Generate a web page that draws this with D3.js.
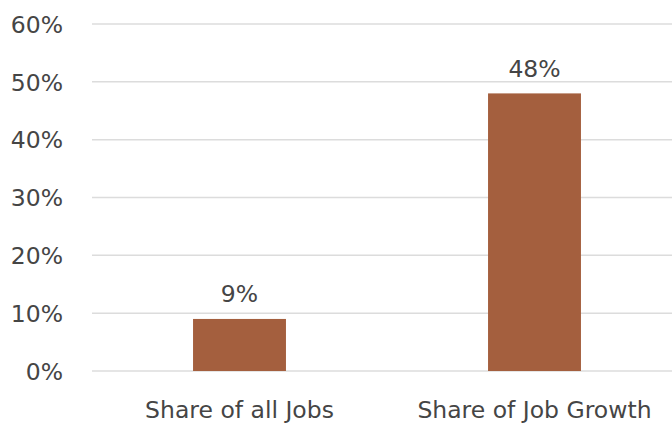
<!DOCTYPE html>
<head>
  <meta charset="utf-8">
  <script src="https://d3js.org/d3.v7.min.js"></script>
  <style>
    body { margin: 0; background: #fff; }
    text { font-family: "DejaVu Sans", sans-serif; fill: #454545; }
    .grid line { stroke: #dcdcdc; stroke-width: 1.5; }
  </style>
</head>
<body>
  <script>
    const categories = ["Share of all Jobs", "Share of Job Growth"];
    const values = [9, 48];
    const tickValues = [0, 10, 20, 30, 40, 50, 60];

    const width = 672, height = 423;
    const barColor = "#a45f3e";
    const fontSize = "23.5px";

    const svg = d3.select("body").append("svg")
        .attr("width", width)
        .attr("height", height);

    const x = d3.scaleBand()
        .domain(categories)
        .range([92, 682])
        .paddingInner(0.685)
        .paddingOuter(0.3425);
    const y = d3.scaleLinear().domain([0, 60]).range([371, 24]);

    // gridlines
    svg.append("g")
        .attr("class", "grid")
        .selectAll("line")
        .data(tickValues)
        .enter().append("line")
        .attr("x1", 92)
        .attr("x2", 682)
        .attr("y1", d => y(d))
        .attr("y2", d => y(d));

    // y tick labels
    svg.append("g")
        .selectAll("text")
        .data(tickValues)
        .enter().append("text")
        .attr("x", 63)
        .attr("y", d => y(d))
        .attr("dy", "0.37em")
        .attr("text-anchor", "end")
        .style("font-size", fontSize)
        .text(d => d + "%");

    const data = categories.map((c, i) => ({name: c, value: values[i]}));

    svg.selectAll(".bar")
        .data(data)
        .enter().append("rect")
        .attr("class", "bar")
        .attr("x", d => x(d.name))
        .attr("width", x.bandwidth())
        .attr("y", d => y(d.value))
        .attr("height", d => y(0) - y(d.value))
        .style("fill", barColor);

    svg.selectAll(".label")
        .data(data)
        .enter().append("text")
        .attr("class", "label")
        .attr("x", d => x(d.name) + x.bandwidth() / 2)
        .attr("y", d => y(d.value) - 16.5)
        .attr("text-anchor", "middle")
        .style("font-size", fontSize)
        .text(d => d.value + "%");

    // x category labels
    svg.selectAll(".cat")
        .data(categories)
        .enter().append("text")
        .attr("class", "cat")
        .attr("x", d => x(d) + x.bandwidth() / 2)
        .attr("y", 418)
        .attr("text-anchor", "middle")
        .style("font-size", fontSize)
        .text(d => d);
  </script>
</body>
